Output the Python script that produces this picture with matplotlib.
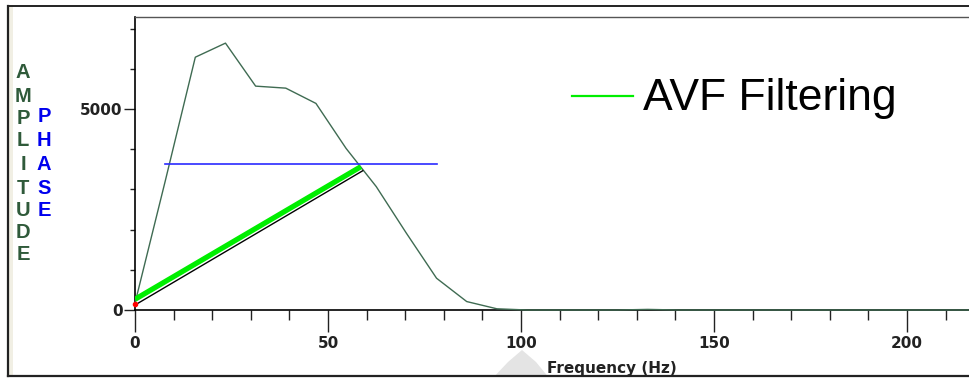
import matplotlib
matplotlib.use("Agg")
import matplotlib.pyplot as plt
from matplotlib.patches import Rectangle, Polygon
from matplotlib.lines import Line2D
import numpy as np

# ---- data ----
freq_step = 7.8125
amp_values = [170, 3200, 6290, 6640, 5570, 5520, 5140, 4020, 3070, 1910, 790, 210, 30,
              0, 0, 0, 0, 15, 0, 0, 0, 0, 0, 0, 0, 0, 0, 0, 0]
amp_freqs = [i * freq_step for i in range(len(amp_values))]

phase_x = [7.8125, 78.125]
phase_y = [3624, 3624]

avf_x = [0, 58.5]
avf_y = [266, 3565]

ref_x = [0, 59.0]
ref_y = [124, 3465]

xticks_major = [0, 50, 100, 150, 200]
yticks_major = [0, 5000]
ytick_labels = ["0", "5000"]

W, H = 970, 379
fig = plt.figure(figsize=(W / 100, H / 100), dpi=100)

def fx(px):
    return px / W

def fy(py):
    return 1 - py / H

ax_left, ax_right = 135, 970
ax_top, ax_bottom = 17, 310
ax = fig.add_axes([fx(ax_left), fy(ax_bottom), fx(ax_right - ax_left), (ax_bottom - ax_top) / H])

px_per_hz = (907 - 135) / 200.0
ax.set_xlim(0, (ax_right - ax_left) / px_per_hz)
ax.set_ylim(0, 7290)

curve_col = "#3f6b52"
ax.plot(amp_freqs, amp_values, color=curve_col, lw=1.0, zorder=3, clip_on=False)
ax.plot(phase_x, phase_y, color="#2b2bff", lw=1.2, zorder=4)
ax.plot(ref_x, ref_y, color="black", lw=1.0, zorder=4)
ax.plot(avf_x, avf_y, color="#00ee00", lw=3.8, zorder=5, solid_capstyle="butt")
ax.plot([0], [150], marker="o", ms=3, color="red", zorder=6, clip_on=False)

# spines
ax.spines["right"].set_visible(False)
ax.spines["top"].set_color("#555555")
ax.spines["top"].set_linewidth(1.0)
ax.spines["left"].set_linewidth(1.2)
ax.spines["bottom"].set_linewidth(1.2)

ax.set_xticks(xticks_major)
ax.set_xticks(np.arange(0, 220, 10), minor=True)
ax.set_yticks(yticks_major)
ax.set_yticklabels(ytick_labels)
ax.set_yticks(np.arange(0, 7300, 1000), minor=True)

ax.tick_params(axis="x", which="major", direction="out", length=15.5, width=1.0, pad=3,
               labelsize=11, colors="#222222")
ax.tick_params(axis="x", which="minor", direction="out", length=7.5, width=1.0, colors="#222222")
ax.tick_params(axis="y", which="major", direction="out", length=8, width=1.0, pad=1,
               labelsize=11, colors="#222222")
ax.tick_params(axis="y", which="minor", direction="out", length=3.8, width=1.0, colors="#222222")
for lab in ax.get_xticklabels() + ax.get_yticklabels():
    lab.set_fontweight("bold")

# legend-like annotation
fig.add_artist(Line2D([fx(572), fx(633)], [fy(96), fy(96)], color="#00ee00", lw=1.6))
fig.text(fx(643), fy(110), "AVF Filtering", fontsize=32, family="Liberation Sans",
         va="baseline", ha="left", color="black")

# stacked axis labels
amp_letters = "AMPLITUDE"
amp_ys = [73, 96, 118, 141, 164, 188, 210, 233, 255]
for ch, yy in zip(amp_letters, amp_ys):
    fig.text(fx(23), fy(yy), ch, fontsize=14.5, family="Liberation Sans", fontweight="bold",
             color="#2f5a3a", ha="center", va="center")
phase_letters = "PHASE"
phase_ys = [117, 141, 164, 188, 210]
for ch, yy in zip(phase_letters, phase_ys):
    fig.text(fx(44), fy(yy), ch, fontsize=14.5, family="Liberation Sans", fontweight="bold",
             color="#0000ee", ha="center", va="center")

# smudge artifact near the x label
fig.add_artist(Polygon([[fx(492), fy(379)], [fx(508), fy(362)], [fx(522), fy(350)],
                        [fx(536), fy(362)], [fx(550), fy(379)]], closed=True,
                       facecolor="#e4e4e4", edgecolor="none", zorder=1))

fig.text(fx(547), fy(373), "Frequency (Hz)", fontsize=11, fontweight="bold",
         color="#222222", ha="left", va="baseline", zorder=3)

# outer frame
fig.add_artist(Rectangle((0, 0), 1, fy(377), transform=fig.transFigure,
                         facecolor="white", edgecolor="none", zorder=20))
fig.add_artist(Line2D([fx(8), 1], [fy(376), fy(376)], color="#222222", lw=1.6, zorder=21))
fig.add_artist(Line2D([fx(8), 1], [fy(6), fy(6)], color="#222222", lw=1.4, zorder=21))
fig.add_artist(Line2D([fx(8), fx(8)], [fy(6), fy(376)], color="#222222", lw=1.6, zorder=21))
fig.add_artist(Rectangle((fx(9), fy(375)), fx(4), (375 - 7) / H, transform=fig.transFigure,
                         facecolor="#f1efe4", edgecolor="none", zorder=0))

fig.savefig("out.png", dpi=100)
